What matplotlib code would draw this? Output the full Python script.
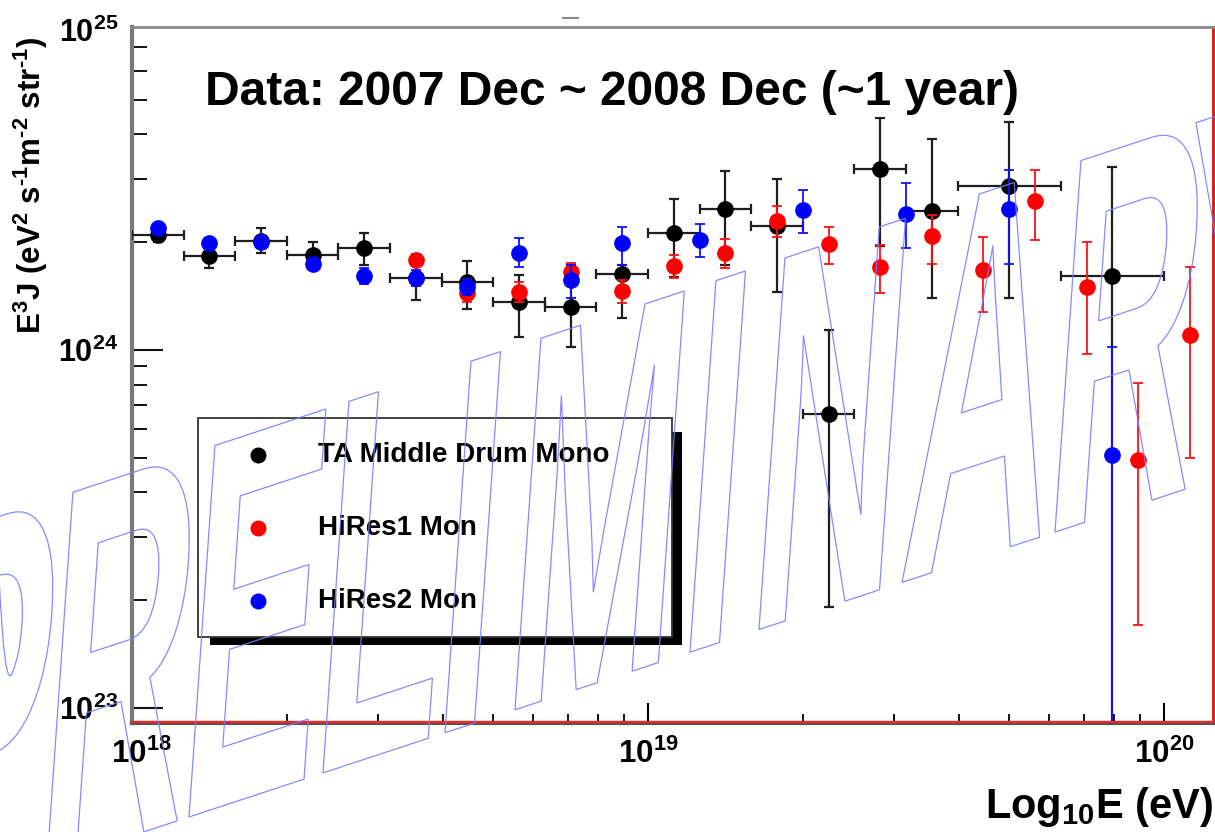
import numpy as np
import matplotlib
matplotlib.use("Agg")
import matplotlib.pyplot as plt
from matplotlib.ticker import LogLocator, NullFormatter
from matplotlib.textpath import TextPath
from matplotlib.patches import PathPatch, Rectangle
from matplotlib.font_manager import FontProperties
from matplotlib.transforms import Affine2D, ScaledTranslation
from matplotlib.lines import Line2D

# Fonts: bold Helvetica-like everywhere, also inside math text
plt.rcParams['font.family'] = ['Liberation Sans', 'DejaVu Sans']
plt.rcParams['font.weight'] = 'bold'
plt.rcParams['mathtext.fontset'] = 'custom'
plt.rcParams['mathtext.rm'] = 'Liberation Sans:bold'
plt.rcParams['mathtext.it'] = 'Liberation Sans:italic:bold'
plt.rcParams['mathtext.bf'] = 'Liberation Sans:bold'
plt.rcParams['mathtext.default'] = 'rm'

# Data (flux E^3 J in units of 1e24 eV^2 s^-1 m^-2 str^-1)
# ---------------------------------------

# TA Middle Drum Mono
ta_loge = [18.05, 18.15, 18.25, 18.35, 18.45, 18.55, 18.65, 18.75, 18.85,
           18.95, 19.05, 19.15, 19.25, 19.35, 19.45, 19.55, 19.7, 19.9]
ta_halfbin = [0.05, 0.05, 0.05, 0.05, 0.05, 0.05, 0.05, 0.05, 0.05,
              0.05, 0.05, 0.05, 0.05, 0.05, 0.05, 0.05, 0.1, 0.1]
ta_flux = [2.10, 1.83, 2.02, 1.84, 1.93, 1.59, 1.55, 1.36, 1.32,
           1.63, 2.12, 2.48, 2.22, 0.663, 3.20, 2.44, 2.87, 1.61]
ta_hi = [2.16, 1.88, 2.19, 2.00, 2.12, 1.76, 1.77, 1.62, 1.73,
         1.73, 2.64, 3.16, 3.00, 1.14, 4.45, 3.88, 4.33, 3.24]
ta_lo = [2.00, 1.69, 1.87, 1.71, 1.73, 1.38, 1.30, 1.087, 1.02,
         1.23, 1.60, 1.73, 1.45, 0.191, 1.95, 1.40, 1.40, 0.01]

# HiRes1 Mon
hr1_loge = [18.55, 18.65, 18.75, 18.85, 18.95, 19.05, 19.15, 19.25,
            19.35, 19.45, 19.55, 19.65, 19.75, 19.85, 19.95, 20.05]
hr1_flux = [1.78, 1.44, 1.45, 1.65, 1.46, 1.72, 1.87, 2.29,
            1.98, 1.71, 2.08, 1.67, 2.61, 1.50, 0.493, 1.10]
hr1_hi = [1.85, 1.53, 1.55, 1.75, 1.57, 1.84, 2.04, 2.52,
          2.21, 1.97, 2.38, 2.07, 3.18, 2.00, 0.809, 1.705]
hr1_lo = [1.72, 1.36, 1.36, 1.58, 1.35, 1.59, 1.69, 2.07,
          1.74, 1.44, 1.74, 1.28, 2.03, 0.975, 0.171, 0.499]

# HiRes2 Mon
hr2_loge = [18.05, 18.15, 18.25, 18.35, 18.45, 18.55, 18.65, 18.75,
            18.85, 18.95, 19.1, 19.3, 19.5, 19.7, 19.9]
hr2_flux = [2.19, 1.99, 2.00, 1.74, 1.61, 1.59, 1.50, 1.87,
            1.57, 1.99, 2.03, 2.46, 2.40, 2.48, 0.509]
hr2_hi = [2.26, 2.06, 2.07, 1.81, 1.69, 1.67, 1.58, 2.06,
          1.73, 2.21, 2.25, 2.80, 2.93, 3.18, 1.02]
hr2_lo = [2.12, 1.93, 1.94, 1.67, 1.53, 1.51, 1.42, 1.71,
          1.40, 1.73, 1.82, 2.12, 1.93, 1.74, 0.01]

legend_labels = ["TA Middle Drum Mono", "HiRes1 Mon", "HiRes2 Mon"]
xtick_vals = [1e18, 1e19, 1e20]
xtick_labels = [r"$10^{18}$", r"$10^{19}$", r"$10^{20}$"]
ytick_vals = [1e23, 1e24]
ytick_labels = [r"$10^{23}$", r"$10^{24}$"]

title = "Data: 2007 Dec ~ 2008 Dec (~1 year)"
ylabel = "E$^{3}$J (eV$^{2}$ s$^{\u2010 1}$m$^{\u2010 2}$ str$^{\u2010 1}$)"
xlabel = r"Log$_{10}$E (eV)"

# Setup
# ---------------------------------------
W, H = 1215, 832
fig = plt.figure(figsize=(W / 100, H / 100), dpi=100)
ax = fig.add_axes([132 / W, (H - 723) / H, 1081 / W, 696 / H])
ax.set_xscale('log')
ax.set_yscale('log')
ax.set_xlim(1e18, 1.245e20)
ax.set_ylim(9.08e22, 7.98e24)


def draw_series(loge, flux, hi, lo, color, ecolor, lw, z, halfbin=None):
    loge = np.array(loge)
    x = 10 ** loge
    y = np.array(flux) * 1e24
    yerr = [y - np.array(lo) * 1e24, np.array(hi) * 1e24 - y]
    xerr = None
    if halfbin is not None:
        hb = np.array(halfbin)
        xerr = [x - 10 ** (loge - hb), 10 ** (loge + hb) - x]
    ax.errorbar(x, y, xerr=xerr, yerr=yerr, fmt='o', color=color, ms=11,
                mec=color, ecolor=ecolor, elinewidth=lw, capsize=3.6,
                capthick=lw, zorder=z)


draw_series(ta_loge, ta_flux, ta_hi, ta_lo, 'black', '#1e1e1e', 1.6, 3, ta_halfbin)
draw_series(hr1_loge, hr1_flux, hr1_hi, hr1_lo, '#ff0000', '#ff1010', 1.3, 4)
draw_series(hr2_loge, hr2_flux, hr2_hi, hr2_lo, '#0000ff', '#1010ff', 1.3, 5)

# Axes styling
# ---------------------------------------
ax.set_xticks(xtick_vals, labels=xtick_labels)
ax.set_yticks(ytick_vals, labels=ytick_labels)
ax.xaxis.set_minor_locator(LogLocator(base=10, subs=np.arange(2, 10)))
ax.yaxis.set_minor_locator(LogLocator(base=10, subs=np.arange(2, 10)))
ax.xaxis.set_minor_formatter(NullFormatter())
ax.yaxis.set_minor_formatter(NullFormatter())

ax.tick_params(axis='x', which='major', direction='in', length=14.5, width=1.5,
               color='black', labelsize=22.5, pad=11, top=False)
ax.tick_params(axis='x', which='minor', direction='in', length=6.5, width=1.3,
               color='black', top=False)
ax.tick_params(axis='y', which='major', direction='in', length=22, width=1.5,
               color='#111111', labelsize=22, pad=10, right=False)
ax.tick_params(axis='y', which='minor', direction='in', length=11, width=1.4,
               color='#111111', right=False)

# first x label sits a little right of its tick, as in the original
first = ax.get_xticklabels()[0]
first.set_transform(first.get_transform() +
                    ScaledTranslation(0.09, 0, fig.dpi_scale_trans))

ax.spines['left'].set_color('#7a7a7a')
ax.spines['left'].set_linewidth(3)
ax.spines['top'].set_color('#8a8a8a')
ax.spines['top'].set_linewidth(2)
ax.spines['right'].set_color('#d41515')
ax.spines['right'].set_linewidth(2)
ax.spines['bottom'].set_color('#555555')
ax.spines['bottom'].set_linewidth(3)
ax.plot([0, 1], [0.0015, 0.0015], transform=ax.transAxes, color='#ff2020',
        lw=1.6, clip_on=False, zorder=6)

# Legend with a hard black shadow
# ---------------------------------------
ax.add_patch(Rectangle((0.0722, 0.1121), 0.4366, 0.306, transform=ax.transAxes,
                       facecolor='black', edgecolor='none', zorder=7))
ax.add_patch(Rectangle((0.0611, 0.1236), 0.4385, 0.3146, transform=ax.transAxes,
                       facecolor='white', edgecolor='#333333', lw=1.3, zorder=8))
leg_colors = ['black', '#ff0000', '#0000ff']
leg_y = [0.385, 0.280, 0.175]
for lab, c, yy in zip(legend_labels, leg_colors, leg_y):
    ax.plot([0.1166], [yy], 'o', color=c, ms=10.5, transform=ax.transAxes,
            clip_on=False, zorder=9)
    ax.text(0.172, yy, lab, transform=ax.transAxes, fontsize=20,
            fontweight='bold', ha='left', va='center', zorder=9)

# Texts
# ---------------------------------------
fig.text(205 / W, 1 - 105 / H, title, fontsize=34.5, fontweight='bold',
         ha='left', va='baseline')
fig.text(31 / W, 1 - 185 / H, ylabel, rotation=90, fontsize=22.5,
         ha='center', va='center')
fig.text(1213 / W, 1 - 818 / H, xlabel, fontsize=30, ha='right', va='baseline')
fig.text(118 / W, 1 - 33 / H, r"$10^{25}$", fontsize=22, ha='right', va='center')
fig.add_artist(Line2D([563 / W, 578 / W], [1 - 18 / H, 1 - 18 / H],
                      color='#8a8a8a', lw=1.5))

# PRELIMINARY watermark (outlined, sheared letters)
# ---------------------------------------
wm_letters = list("PRELIMINARY")
wm_left = [-82, 47, 189, 323, 445, 515, 690, 759, 902, 1055, 1170]
fp = FontProperties(family='Liberation Sans', weight='bold')
a, b, c, d = 205.0, 67.5, 37.7, 540.0
for ch, xl in zip(wm_letters, wm_left):
    p = TextPath((0, 0), ch, size=1, prop=fp)
    u0 = p.get_extents().x0
    yb = 817 - 0.329 * (xl - 189)
    m = np.array([[a, c, xl - a * u0],
                  [b, d, H - yb - b * u0],
                  [0, 0, 1]])
    patch = PathPatch(p, transform=Affine2D(m), facecolor='none',
                      edgecolor='#7c7cff', lw=0.9, alpha=0.9, zorder=10)
    fig.add_artist(patch)

fig.savefig("out.png", dpi=100)
